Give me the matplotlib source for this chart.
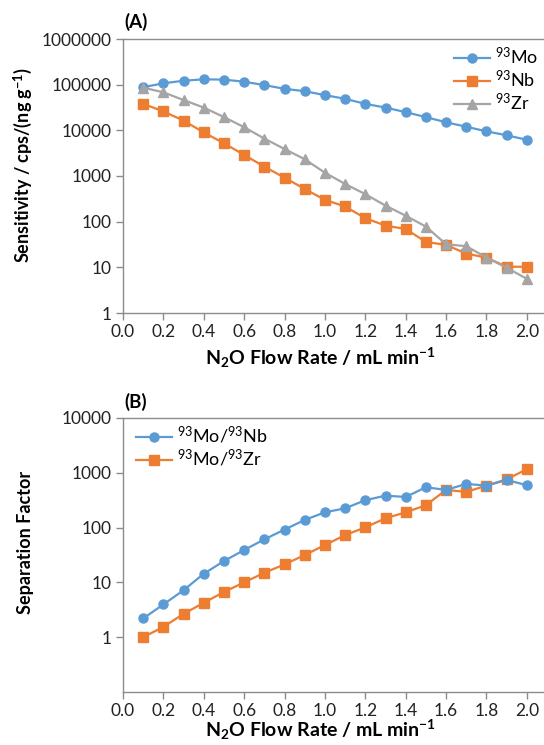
import matplotlib
matplotlib.use("Agg")
import matplotlib.pyplot as plt
from matplotlib.ticker import FixedLocator, FixedFormatter

plt.rcParams['font.family'] = ['Lato', 'DejaVu Sans']
plt.rcParams['mathtext.fontset'] = 'custom'
plt.rcParams['mathtext.rm'] = 'Lato'
plt.rcParams['mathtext.it'] = 'Lato:italic'
plt.rcParams['mathtext.bf'] = 'Lato:bold'

# ---- data ----
flow = [0.1, 0.2, 0.3, 0.4, 0.5, 0.6, 0.7, 0.8, 0.9, 1.0,
        1.1, 1.2, 1.3, 1.4, 1.5, 1.6, 1.7, 1.8, 1.9, 2.0]

mo = [88000, 107000, 122000, 131000, 129000, 116000, 98000, 81000, 72000, 59000,
      49000, 38000, 31500, 25000, 19500, 15000, 12000, 9500, 7800, 6200]
nb = [38000, 26000, 16300, 9000, 5200, 2900, 1600, 920, 520, 300,
      215, 119, 82, 69, 36, 31, 20, 16.3, 10.3, 10.3]
zr = [86000, 68000, 46000, 31500, 19500, 11700, 6600, 3900, 2330, 1180,
      670, 400, 225, 135, 78, 32, 29, 16.4, 9.8, 5.6]

mo_nb = [2.2, 3.96, 7.2, 14.4, 24.5, 39, 61, 92, 138, 190,
         225, 316, 383, 362, 545, 487, 627, 583, 741, 593]
mo_zr = [1.0, 1.54, 2.67, 4.24, 6.7, 10, 15, 21.3, 31.6, 48,
         73, 101, 148, 190, 256, 487, 448, 583, 760, 1164]

x_ticks = [0.0, 0.2, 0.4, 0.6, 0.8, 1.0, 1.2, 1.4, 1.6, 1.8, 2.0]
yA_ticks = [1, 10, 100, 1000, 10000, 100000, 1000000]
yB_ticks = [1, 10, 100, 1000, 10000]

BLUE = '#5B9BD5'
ORANGE = '#ED7D31'
GRAY = '#A5A5A5'
AXC = '#8C8C8C'

W, H = 544, 745
fig = plt.figure(figsize=(W / 100, H / 100), dpi=100)

def px_axes(left, top, right, bottom):
    return fig.add_axes([left / W, 1 - bottom / H, (right - left) / W, (bottom - top) / H])

def style(ax, yticks, ylim):
    ax.set_yscale('log')
    ax.set_xlim(0, 2.08)
    ax.set_ylim(*ylim)
    ax.xaxis.set_major_locator(FixedLocator(x_ticks))
    ax.xaxis.set_major_formatter(FixedFormatter([f"{t:.1f}" for t in x_ticks]))
    ax.yaxis.set_major_locator(FixedLocator(yticks))
    ax.yaxis.set_major_formatter(FixedFormatter([str(t) for t in yticks]))
    ax.yaxis.set_minor_locator(FixedLocator([]))
    for s in ['left', 'bottom', 'top']:
        ax.spines[s].set_color(AXC)
        ax.spines[s].set_linewidth(1.0)
    ax.spines['right'].set_visible(False)
    ax.tick_params(axis='both', which='major', direction='out', length=5,
                   width=1.0, color=AXC, labelsize=12.5, labelcolor='#222222', pad=3)
    ax.tick_params(axis='x', pad=3)
    ax.patch.set_alpha(0)

lw = 1.6
ms = 6.5
XLAB = r'N$_{\mathbf{2}}$O Flow Rate / mL min$^{\mathbf{-1}}$'

# Panel A
axA = px_axes(123, 39, 543, 313)
axA.plot(flow, mo, color=BLUE, lw=lw, marker='o', ms=ms, label=r'$^{93}$Mo', zorder=3)
axA.plot(flow, nb, color=ORANGE, lw=lw, marker='s', ms=ms, label=r'$^{93}$Nb', zorder=2)
axA.plot(flow, zr, color=GRAY, lw=lw, marker='^', ms=ms + 0.8, label=r'$^{93}$Zr', zorder=4)
style(axA, yA_ticks, (1, 1000000))
axA.set_ylabel(r'Sensitivity / cps/(ng g$^{\mathbf{-1}}$)', fontsize=13,
               fontweight='bold')
axA.yaxis.set_label_coords(-0.213, 0.54)
axA.set_xlabel(XLAB, fontsize=14, fontweight='bold')
axA.xaxis.set_label_coords(0.47, -0.165)
axA.xaxis.label.set_verticalalignment('center')
axA.legend(loc='upper right', bbox_to_anchor=(1.02, 1.02), frameon=False,
           fontsize=13, handlelength=2.0, handletextpad=0.3, labelspacing=0.1,
           borderaxespad=0.3)
fig.text(124 / W, 1 - 22 / H, '(A)', fontsize=13.5, fontweight='bold', va='center', ha='left')

# Panel B
axB = px_axes(123, 418, 543, 692)
axB.plot(flow, mo_nb, color=BLUE, lw=lw, marker='o', ms=ms,
         label=r'$^{93}$Mo/$^{93}$Nb', zorder=3)
axB.plot(flow, mo_zr, color=ORANGE, lw=lw, marker='s', ms=ms,
         label=r'$^{93}$Mo/$^{93}$Zr', zorder=2)
style(axB, yB_ticks, (0.1, 10000))
axB.set_ylabel('Separation Factor', fontsize=13, fontweight='bold')
axB.yaxis.set_label_coords(-0.213, 0.545)
axB.set_xlabel(XLAB, fontsize=14, fontweight='bold')
axB.xaxis.set_label_coords(0.47, -0.14)
axB.xaxis.label.set_verticalalignment('center')
axB.legend(loc='upper left', bbox_to_anchor=(0.0, 1.02), frameon=False,
           fontsize=13, handlelength=2.0, handletextpad=0.3, labelspacing=0.1,
           borderaxespad=0.3)
fig.text(124 / W, 1 - 402 / H, '(B)', fontsize=13.5, fontweight='bold', va='center', ha='left')

fig.savefig('out.png', dpi=100)
